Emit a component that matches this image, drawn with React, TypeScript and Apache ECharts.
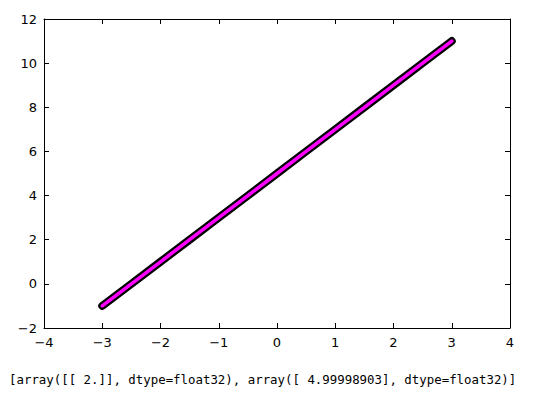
import React, { useEffect, useRef } from "react";
import * as echarts from "echarts";

const xValues = [-3, -2.5, -2, -1.5, -1, -0.5, 0, 0.5, 1, 1.5, 2, 2.5, 3];
const yValues = [-1, 0, 1, 2, 3, 4, 5, 6, 7, 8, 9, 10, 11];
const captionText = "[array([[ 2.]], dtype=float32), array([ 4.99998903], dtype=float32)]";

const fmt = (v: number) => (v < 0 ? "\u2212" + Math.abs(v) : String(v));

export default function App() {
  const ref = useRef<HTMLDivElement>(null);
  useEffect(() => {
    if (!ref.current) return;
    const chart = echarts.init(ref.current, undefined, { renderer: "svg" });
    const pts = xValues.map((x, i) => [x, yValues[i]]);
    const axisCommon = {
      axisLine: { show: true, onZero: false, lineStyle: { color: "#000", width: 1 } },
      axisTick: { show: true, inside: true, length: 5, lineStyle: { color: "#000" } },
      splitLine: { show: false },
    };
    const labelStyle = { color: "#000", fontFamily: "DejaVu Sans", fontSize: 13 };
    chart.setOption({
      animation: false,
      backgroundColor: "#fff",
      grid: { left: 44, top: 19, right: 28, bottom: 68, containLabel: false },
      xAxis: [
        { type: "value", min: -4, max: 4, interval: 1, position: "bottom", ...axisCommon,
          axisLabel: { ...labelStyle, margin: 8, formatter: fmt } },
        { type: "value", min: -4, max: 4, interval: 1, position: "top", ...axisCommon,
          axisLabel: { show: false } },
      ],
      yAxis: [
        { type: "value", min: -2, max: 12, interval: 2, position: "left", ...axisCommon,
          axisLabel: { ...labelStyle, margin: 7, formatter: fmt } },
        { type: "value", min: -2, max: 12, interval: 2, position: "right", ...axisCommon,
          axisLabel: { show: false } },
      ],
      series: [
        { type: "line", data: pts, showSymbol: false, symbol: "none",
          lineStyle: { color: "#000", width: 8, cap: "round", join: "round" }, z: 2 },
        { type: "line", data: pts, showSymbol: false, symbol: "none",
          lineStyle: { color: "#ff00ff", width: 3.5, cap: "round", join: "round" }, z: 3 },
      ],
      graphic: [
        { type: "text", left: 9, top: 373,
          style: { text: captionText, fill: "#000", font: "12.4px 'DejaVu Sans Mono'" } },
      ],
    });
    return () => chart.dispose();
  }, []);
  return <div ref={ref} style={{ width: 538, height: 396, position: "absolute", left: 0, top: 0 }} />;
}
